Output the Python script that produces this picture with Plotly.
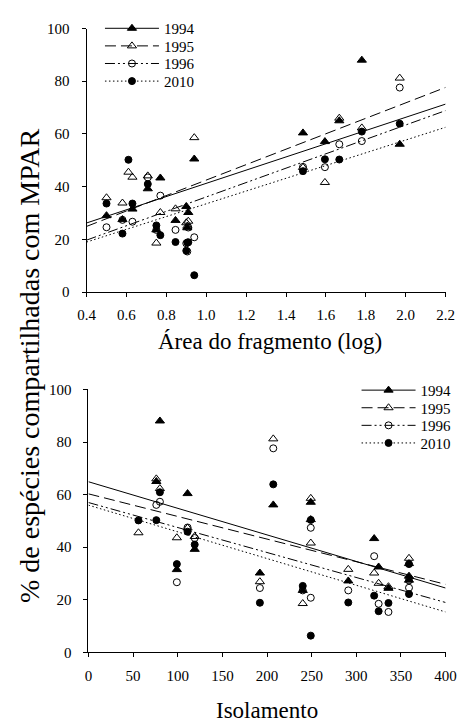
import plotly.graph_objects as go

# Fragment attributes (one entry per fragment)
area_log = [0.61, 0.63, 0.50, 0.58, 0.707, 0.75, 0.77, 0.846, 0.91, 0.90, 0.905,
            0.94, 1.485, 1.595, 1.667, 1.78, 1.97]
isolation = [56, 99, 359, 359, 119, 240, 320, 291, 192, 325, 336,
             249, 111, 249, 76, 80, 207]

# % of species shared with MPAR, per survey year
years = ["1994", "1995", "1996", "2010"]
share_1994 = [None, 31.5, 29.0, 27.5, 39.2, 23.6, 43.3, 27.2, 30.2, 32.5, 24.4,
              50.5, 60.4, 57.1, 65.0, 88.0, 56.1]
share_1995 = [45.5, 43.6, 35.8, 33.8, 44.1, 18.6, 30.2, 31.6, 26.9, 26.3, 25.0,
              58.6, 47.3, 41.6, 66.0, 62.3, 81.2]
share_1996 = [None, 26.7, 24.6, 27.4, 43.5, 23.6, 36.6, 23.6, 24.5, 18.5, 15.4,
              20.8, 47.5, 47.4, 56.1, 57.3, 77.6]
share_2010 = [50.2, 33.6, 33.6, 22.2, 41.0, 25.3, 21.6, 19.0, 18.9, 15.7, 18.8,
              6.4, 45.9, 50.4, 50.3, 60.9, 63.9]
shares = [share_1994, share_1995, share_1996, share_2010]

# Linear fits (intercept, slope) for each year
area_intercept = [16.2, 13.2, 8.8, 9.3]
area_slope = [25.06, 29.3, 27.3, 24.2]
iso_intercept = [64.9, 60.3, 57.0, 56.0]
iso_slope = [-0.101, -0.086, -0.095, -0.1015]

area_range = [0.4, 2.2]
iso_range = [0, 400]
area_ticks = [0.4, 0.6, 0.8, 1.0, 1.2, 1.4, 1.6, 1.8, 2.0, 2.2]
iso_ticks = [0, 50, 100, 150, 200, 250, 300, 350, 400]
share_ticks = [0, 20, 40, 60, 80, 100]

# Styles per year
symbols = ["triangle-up", "triangle-up-open", "circle-open", "circle"]
sizes = [8, 8, 7, 7]
dashes = ["solid", "11px,5px", "10px,3px,2px,3px,2px,3px", "1.5px,2.5px"]

FONT = "Liberation Serif"
BLACK = "#000000"
W, H = 470, 726

fig = go.Figure()

# legend key rows: (left x, centre y) in pixels, one legend box per key
top_keys = [(95, 21), (95, 39), (95, 57), (95, 75)]
bottom_keys = [(363, 391), (363, 409), (363, 427), (363, 445)]


def add_panel(xvals, intercepts, slopes, xrange, xaxis, yaxis, legend_start):
    for i, yr in enumerate(years):
        line = dict(color=BLACK, width=1, dash=dashes[i])
        marker = dict(symbol=symbols[i], size=sizes[i], color=BLACK,
                      line=dict(color=BLACK, width=1))
        # fitted line
        fx = list(xrange)
        fy = [intercepts[i] + slopes[i] * v for v in fx]
        fig.add_trace(go.Scatter(x=fx, y=fy, mode="lines", line=line,
                                 xaxis=xaxis, yaxis=yaxis, showlegend=False,
                                 hoverinfo="skip"))
        # observations
        pts = [(x, y) for x, y in zip(xvals, shares[i]) if y is not None]
        fig.add_trace(go.Scatter(x=[p[0] for p in pts], y=[p[1] for p in pts],
                                 mode="markers", marker=marker,
                                 xaxis=xaxis, yaxis=yaxis, showlegend=False))
        # legend key
        n = legend_start + i
        fig.add_trace(go.Scatter(x=[None], y=[None], mode="lines+markers",
                                 line=line, marker=marker, name=yr,
                                 xaxis=xaxis, yaxis=yaxis,
                                 legend="legend" if n == 1 else f"legend{n}"))


add_panel(area_log, area_intercept, area_slope, area_range, "x", "y", 1)
add_panel(isolation, iso_intercept, iso_slope, iso_range, "x2", "y2", 5)

axis_common = dict(showline=True, linecolor=BLACK, linewidth=1, ticks="outside",
                   ticklen=4, tickcolor=BLACK, tickwidth=1, showgrid=False,
                   zeroline=False, tickfont=dict(family=FONT, size=15, color=BLACK))

legend_common = dict(font=dict(family=FONT, size=15, color=BLACK),
                     bgcolor="rgba(0,0,0,0)", xanchor="left", yanchor="middle",
                     itemwidth=54, borderwidth=0)

legends = {}
for n, (px, py) in enumerate(top_keys + bottom_keys, start=1):
    key = "legend" if n == 1 else f"legend{n}"
    legends[key] = dict(legend_common, x=px / W, y=1 - py / H)

fig.update_layout(
    width=W, height=H,
    margin=dict(l=0, r=0, t=0, b=0),
    paper_bgcolor="white", plot_bgcolor="white",
    xaxis=dict(axis_common, domain=[81 / W, 456 / W], range=area_range,
               tickvals=area_ticks, ticktext=[f"{v:.1f}" for v in area_ticks],
               ticklabelstandoff=5, anchor="y"),
    yaxis=dict(axis_common, domain=[1 - 290.5 / H, 1 - 21 / H], range=[0, 100],
               tickvals=share_ticks, ticklabelstandoff=9, anchor="x"),
    xaxis2=dict(axis_common, domain=[83 / W, 456 / W], range=iso_range,
                tickvals=iso_ticks, ticklabelstandoff=6, anchor="y2"),
    yaxis2=dict(axis_common, domain=[1 - 659 / H, 1 - 390 / H], range=[0, 100],
                tickvals=share_ticks, ticklabelstandoff=9, anchor="x2"),
    showlegend=True,
    annotations=[
        dict(text="Área do fragmento (log)", xref="paper", yref="paper",
             x=273 / W, y=1 - 341 / H, xanchor="center", yanchor="middle",
             showarrow=False, font=dict(family=FONT, size=23, color=BLACK)),
        dict(text="Isolamento", xref="paper", yref="paper",
             x=269 / W, y=1 - 718 / H, xanchor="center", yanchor="middle",
             showarrow=False, font=dict(family=FONT, size=23, color=BLACK)),
        dict(text="% de espécies compartilhadas com MPAR", xref="paper", yref="paper",
             x=22 / W, y=1 - 366 / H, xanchor="center", yanchor="middle",
             showarrow=False, textangle=-90,
             font=dict(family=FONT, size=28, color=BLACK)),
    ],
    **legends,
)

fig.write_html("out.html")
